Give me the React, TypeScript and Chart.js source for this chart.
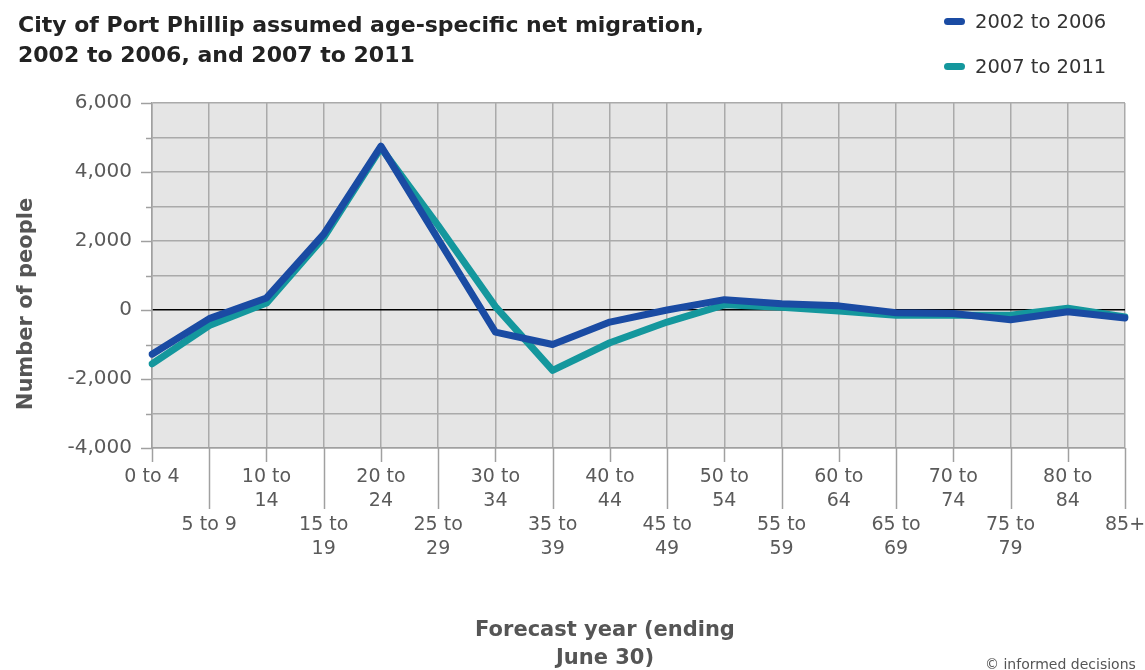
import React, { useEffect, useRef } from "react";
import { Chart, registerables } from "chart.js";

Chart.register(...registerables);

const categories = [
  "0 to 4", "5 to 9", "10 to 14", "15 to 19", "20 to 24", "25 to 29",
  "30 to 34", "35 to 39", "40 to 44", "45 to 49", "50 to 54", "55 to 59",
  "60 to 64", "65 to 69", "70 to 74", "75 to 79", "80 to 84", "85+",
];
const series2002to2006 = [-1280, -250, 350, 2200, 4750, 2050, -640, -1000, -350, 0, 300, 180, 120, -80, -100, -280, -50, -230];
const series2007to2011 = [-1560, -450, 200, 2100, 4700, 2450, 100, -1750, -950, -350, 150, 80, -30, -150, -150, -150, 50, -200];
const seriesNames = ["2002 to 2006", "2007 to 2011"];
const seriesColors = ["#1a4ba3", "#14979d"];
const yMin = -4000;
const yMax = 6000;
const yStep = 1000;
const titleLines = ["City of Port Phillip assumed age-specific net migration,", "2002 to 2006, and 2007 to 2011"];
const yTitle = "Number of people";
const xTitleLines = ["Forecast year (ending", "June 30)"];
const credit = "© informed decisions";

const FONT = "'DejaVu Sans', Verdana, sans-serif";

function wrapLabel(label: string): string[] {
  const idx = label.indexOf(" to ");
  if (idx < 0 || label.length <= 6) return [label];
  return [label.slice(0, idx + 3), label.slice(idx + 4)];
}

const decorPlugin = {
  id: "decor",
  beforeDraw(chart: any) {
    const { ctx, chartArea } = chart;
    ctx.save();
    ctx.fillStyle = "#e5e5e5";
    ctx.fillRect(chartArea.left, chartArea.top, chartArea.right - chartArea.left, chartArea.bottom - chartArea.top);
    ctx.restore();
  },
  afterDraw(chart: any) {
    const { ctx, chartArea, scales } = chart;
    const xs = scales.x;
    const ys = scales.y;
    ctx.save();
    ctx.strokeStyle = "#a0a0a0";
    ctx.lineWidth = 1.5;
    // x tick marks (alternating length)
    xs.ticks.forEach((_t: any, i: number) => {
      const x = Math.round(xs.getPixelForTick(i)) + 0.5;
      ctx.beginPath();
      ctx.moveTo(x, chartArea.bottom);
      ctx.lineTo(x, chartArea.bottom + (i % 2 === 0 ? 14 : 61));
      ctx.stroke();
    });
    // y tick marks
    ys.ticks.forEach((t: any) => {
      const y = Math.round(ys.getPixelForValue(t.value)) + 0.5;
      const major = t.value % 2000 === 0;
      ctx.beginPath();
      ctx.moveTo(chartArea.left - (major ? 11 : 6), y);
      ctx.lineTo(chartArea.left, y);
      ctx.stroke();
    });
    // axis titles
    ctx.fillStyle = "#555";
    ctx.font = `bold 21px ${FONT}`;
    ctx.textAlign = "center";
    ctx.textBaseline = "middle";
    ctx.save();
    ctx.translate(27, 304);
    ctx.rotate(-Math.PI / 2);
    ctx.fillText(yTitle, 0, 0);
    ctx.restore();
    xTitleLines.forEach((line, i) => {
      ctx.fillText(line, 605, 631 + i * 28);
    });
    ctx.restore();
  },
};

export default function App() {
  const canvasRef = useRef<HTMLCanvasElement | null>(null);

  useEffect(() => {
    if (!canvasRef.current) return;
    const chart = new Chart(canvasRef.current, {
      type: "line",
      data: {
        labels: categories,
        datasets: [
          {
            label: seriesNames[0],
            data: series2002to2006,
            borderColor: seriesColors[0],
            backgroundColor: seriesColors[0],
            borderWidth: 7,
            pointRadius: 0,
            tension: 0,
            borderCapStyle: "round",
            borderJoinStyle: "round",
          },
          {
            label: seriesNames[1],
            data: series2007to2011,
            borderColor: seriesColors[1],
            backgroundColor: seriesColors[1],
            borderWidth: 7,
            pointRadius: 0,
            tension: 0,
            borderCapStyle: "round",
            borderJoinStyle: "round",
          },
        ],
      },
      options: {
        responsive: false,
        animation: false,
        layout: { padding: { left: 0, top: 103, right: 20, bottom: 0 } },
        plugins: {
          legend: { display: false },
          title: { display: false },
          tooltip: { enabled: false },
        },
        scales: {
          x: {
            type: "category",
            offset: false,
            afterFit: (s: any) => {
              s.height = 222;
              s.paddingLeft = 0;
              s.paddingRight = 0;
            },
            grid: {
              color: "#aaaaaa",
              lineWidth: 1.5,
              drawTicks: false,
            },
            border: { color: "#a0a0a0", width: 1.5 },
            ticks: {
              autoSkip: false,
              maxRotation: 0,
              minRotation: 0,
              padding: 17,
              color: "#5a5a5a",
              font: { family: FONT, size: 19, lineHeight: 24 / 19 },
              callback: (_v: any, i: number) => {
                const lines = wrapLabel(categories[i]);
                return i % 2 === 0 ? lines : ["", "", ...lines];
              },
            },
          },
          y: {
            min: yMin,
            max: yMax,
            afterFit: (s: any) => {
              s.width = 152;
              s.paddingTop = 0;
              s.paddingBottom = 0;
            },
            grid: {
              color: (c: any) => (c.tick && c.tick.value === 0 ? "#000000" : "#aaaaaa"),
              lineWidth: 1.5,
              drawTicks: false,
            },
            border: { color: "#a0a0a0", width: 1.5 },
            ticks: {
              stepSize: yStep,
              padding: 20,
              color: "#5a5a5a",
              font: { family: FONT, size: 20 },
              callback: (v: any) => (Number(v) % 2000 === 0 ? Number(v).toLocaleString("en-US") : ""),
            },
          },
        },
      },
      plugins: [decorPlugin],
    });
    return () => chart.destroy();
  }, []);

  return (
    <div style={{ position: "absolute", left: 0, top: 0, width: 1145, height: 670, overflow: "hidden", background: "#fff", fontFamily: FONT }}>
      <canvas ref={canvasRef} width={1145} height={670} style={{ position: "absolute", left: 0, top: 0 }} />
      <div style={{ position: "absolute", left: 18, top: 10, fontWeight: "bold", fontSize: 22, lineHeight: "30px", color: "#222", whiteSpace: "nowrap" }}>
        {titleLines.map((l, i) => (
          <div key={i}>{l}</div>
        ))}
      </div>
      {seriesNames.map((name, i) => (
        <div key={name} style={{ position: "absolute", left: 944, top: 9 + i * 45, height: 24, display: "flex", alignItems: "center", color: "#333", fontSize: 19.5, whiteSpace: "nowrap" }}>
          <span style={{ display: "inline-block", width: 21, height: 7, borderRadius: 4, background: seriesColors[i], marginRight: 10 }} />
          <span>{name}</span>
        </div>
      ))}
      <div style={{ position: "absolute", left: 985, top: 656, fontSize: 14, lineHeight: "16px", color: "#555", whiteSpace: "nowrap" }}>{credit}</div>
    </div>
  );
}
